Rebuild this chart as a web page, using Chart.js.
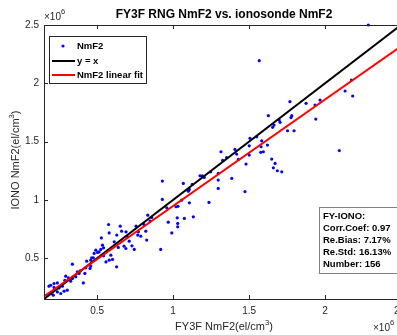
<!DOCTYPE html>
<html>
<head>
<meta charset="utf-8">
<script src="https://cdn.jsdelivr.net/npm/chart.js@4.4.1/dist/chart.umd.min.js"></script>
<style>
  html, body { margin: 0; padding: 0; background: #fff; overflow: hidden; }
  #wrap { width: 397px; height: 335px; overflow: hidden; }
</style>
</head>
<body>
<div id="wrap"><canvas id="chart" width="420" height="335"></canvas></div>
<script>
// values in units of 1e6 el/cm^3
const fy3f = [0.172, 0.194, 0.211, 0.238, 0.260, 0.282, 0.303, 0.183, 0.194, 0.216,
  0.216, 0.238, 0.249, 0.271, 0.287, 0.293, 0.311, 0.326, 0.337, 0.337,
  0.359, 0.381, 0.370, 0.388, 0.409, 0.419, 0.425, 0.431, 0.453, 0.458,
  0.458, 0.464, 0.475, 0.480, 0.491, 0.502, 0.513, 0.524, 0.528, 0.535,
  0.542, 0.542, 0.558, 0.575, 0.579, 0.579, 0.590, 0.601, 0.612, 0.628,
  0.639, 0.652, 0.661, 0.677, 0.689, 0.711, 0.729, 0.744, 0.690, 0.771,
  0.787, 0.808, 0.820, 0.826, 0.848, 0.833, 0.859, 0.756, 0.767, 0.918,
  0.929, 0.929, 0.958, 0.968, 0.991, 1.027, 1.030, 1.030, 1.074, 1.133,
  1.019, 1.032, 1.056, 1.107, 1.100, 1.107, 1.126, 1.067, 1.177, 1.192,
  1.205, 1.247, 1.297, 1.297, 1.297, 1.236, 1.386, 1.473, 1.480, 1.506,
  1.501, 1.501, 1.550, 1.583, 1.621, 1.579, 1.594, 1.577, 1.315, 1.326,
  1.352, 1.407, 1.418, 1.429, 1.649, 1.671, 1.660, 1.686, 1.715, 1.655,
  1.664, 1.627, 1.698, 1.753, 1.796, 1.704, 1.769, 1.781, 1.776, 1.875,
  1.934, 1.967, 1.939, 2.132, 2.174, 2.182, 2.094, 1.567, 2.285, 0.629,
  0.701];
const iono = [0.183, 0.197, 0.183, 0.211, 0.197, 0.217, 0.226, 0.260, 0.268, 0.283,
  0.249, 0.288, 0.245, 0.260, 0.311, 0.346, 0.331, 0.303, 0.326, 0.449,
  0.340, 0.369, 0.383, 0.391, 0.288, 0.369, 0.417, 0.474, 0.412, 0.432,
  0.483, 0.503, 0.503, 0.541, 0.569, 0.549, 0.554, 0.575, 0.674, 0.612,
  0.589, 0.520, 0.468, 0.789, 0.717, 0.483, 0.526, 0.489, 0.640, 0.426,
  0.592, 0.775, 0.732, 0.603, 0.583, 0.646, 0.606, 0.575, 0.726, 0.726,
  0.689, 0.789, 0.732, 0.655, 0.818, 0.869, 0.850, 0.775, 0.698, 0.575,
  1.161, 1.004, 0.932, 0.809, 0.717, 0.846, 0.798, 0.769, 0.841, 0.855,
  0.941, 0.945, 0.998, 0.975, 1.075, 1.090, 1.133, 1.141, 1.207, 1.207,
  1.193, 1.241, 1.227, 1.170, 1.098, 0.978, 1.184, 1.071, 1.307, 1.528,
  1.464, 1.384, 1.541, 1.507, 1.470, 1.456, 1.413, 1.408, 1.413, 1.339,
  1.363, 1.433, 1.393, 1.347, 1.350, 1.313, 1.275, 1.250, 1.241, 1.622,
  1.642, 1.722, 1.685, 1.593, 1.593, 1.665, 1.842, 1.722, 1.706, 1.828,
  1.813, 1.856, 1.693, 1.934, 2.028, 1.891, 1.423, 2.194, 2.500, 0.698,
  0.683];

const refX = [0.15, 2.5];
const refY = [0.15, 2.5];
const fitX = [0.15, 2.5];
const fitY = [0.172, 2.318];

const xTicks = [0.5, 1, 1.5, 2, 2.5];
const yTicks = [0.5, 1, 1.5, 2, 2.5];

const statLines = ["FY-IONO:", "Corr.Coef: 0.97", "Re.Bias: 7.17%", "Re.Std: 16.13%", "Number: 156"];

const FONT = "'Liberation Sans', Arial, Helvetica, sans-serif";
const AXIS = "#262626";

function pairs(xs, ys) {
  return xs.map((x, i) => ({ x: x, y: ys[i] }));
}

// text with a superscript part, parts = [[text, isSup], ...]
function supText(ctx, parts, x, y, size, bold) {
  const w = (p) => {
    ctx.font = (bold ? "bold " : "") + (p[1] ? size * 0.7 : size) + "px " + FONT;
    return ctx.measureText(p[0]).width;
  };
  let total = 0;
  parts.forEach(p => total += w(p));
  let cx = x - total / 2;
  ctx.textAlign = "left";
  ctx.textBaseline = "alphabetic";
  parts.forEach(p => {
    const pw = w(p);
    ctx.fillText(p[0], cx, p[1] ? y - size * 0.45 : y);
    cx += pw;
  });
}

const decor = {
  id: "decor",
  afterDraw(chart) {
    const ctx = chart.ctx;
    const a = chart.chartArea;
    const sx = chart.scales.x, sy = chart.scales.y;
    ctx.save();

    // axes box and inward ticks
    ctx.strokeStyle = AXIS;
    ctx.lineWidth = 1;
    ctx.strokeRect(Math.round(a.left) + 0.5, Math.round(a.top) + 0.5,
      Math.round(a.right - a.left), Math.round(a.bottom - a.top));
    ctx.beginPath();
    xTicks.forEach(v => {
      const px = Math.round(sx.getPixelForValue(v)) + 0.5;
      ctx.moveTo(px, a.bottom); ctx.lineTo(px, a.bottom - 4);
      ctx.moveTo(px, a.top); ctx.lineTo(px, a.top + 4);
    });
    yTicks.forEach(v => {
      const py = Math.round(sy.getPixelForValue(v)) + 0.5;
      ctx.moveTo(a.left, py); ctx.lineTo(a.left + 4, py);
      ctx.moveTo(a.right, py); ctx.lineTo(a.right - 4, py);
    });
    ctx.stroke();

    ctx.fillStyle = "#000";
    ctx.font = "bold 12px " + FONT;
    ctx.textAlign = "center";
    ctx.textBaseline = "middle";
    ctx.fillText("FY3F RNG NmF2 vs. ionosonde NmF2", 224, 15);

    ctx.fillStyle = AXIS;
    // exponent labels
    ctx.font = "10px " + FONT;
    ctx.textAlign = "left";
    ctx.textBaseline = "alphabetic";
    ctx.fillText("\u00d710", 44, 20);
    ctx.font = "7.5px " + FONT;
    ctx.fillText("6", 61, 14);
    ctx.font = "10px " + FONT;
    ctx.fillText("\u00d710", 373, 331);
    ctx.font = "7.5px " + FONT;
    ctx.fillText("6", 390, 325);

    // axis titles
    supText(ctx, [["FY3F NmF2(el/cm", false], ["3", true], [")", false]], 224, 330, 11, false);
    ctx.save();
    ctx.translate(19, 160);
    ctx.rotate(-Math.PI / 2);
    supText(ctx, [["IONO NmF2(el/cm", false], ["3", true], [")", false]], 0, 0, 11, false);
    ctx.restore();

    // legend
    ctx.fillStyle = "#fff";
    ctx.fillRect(49, 36, 97, 47);
    ctx.strokeStyle = AXIS;
    ctx.strokeRect(49.5, 36.5, 97, 47);
    ctx.fillStyle = "#0000ff";
    ctx.beginPath(); ctx.arc(63, 46, 1.6, 0, Math.PI * 2); ctx.fill();
    ctx.lineWidth = 2;
    ctx.strokeStyle = "#000";
    ctx.beginPath(); ctx.moveTo(52, 61); ctx.lineTo(75, 61); ctx.stroke();
    ctx.strokeStyle = "#ff0000";
    ctx.beginPath(); ctx.moveTo(52, 75); ctx.lineTo(75, 75); ctx.stroke();
    ctx.fillStyle = "#000";
    ctx.font = "bold 9.5px " + FONT;
    ctx.textAlign = "left";
    ctx.textBaseline = "middle";
    ctx.fillText("NmF2", 77, 46);
    ctx.fillText("y = x", 77, 61);
    ctx.fillText("NmF2 linear fit", 77, 75);

    // stats box
    ctx.lineWidth = 1;
    ctx.fillStyle = "#fff";
    ctx.fillRect(319, 207, 100, 66);
    ctx.strokeStyle = "#808080";
    ctx.strokeRect(319.5, 207.5, 100, 66);
    ctx.fillStyle = "#000";
    ctx.font = "bold 9.5px " + FONT;
    statLines.forEach((t, i) => ctx.fillText(t, 323, 216 + i * 12));

    ctx.restore();
  }
};

new Chart(document.getElementById("chart"), {
  type: "scatter",
  data: {
    datasets: [
      {
        label: "NmF2 linear fit",
        data: pairs(fitX, fitY),
        showLine: true,
        borderColor: "#ff0000",
        borderWidth: 2,
        pointRadius: 0,
        order: 0
      },
      {
        label: "y = x",
        data: pairs(refX, refY),
        showLine: true,
        borderColor: "#000000",
        borderWidth: 2,
        pointRadius: 0,
        order: 1
      },
      {
        label: "NmF2",
        data: pairs(fy3f, iono),
        pointRadius: 1.6,
        pointBackgroundColor: "#0000ff",
        pointBorderWidth: 0,
        clip: 4,
        order: 2
      }
    ]
  },
  options: {
    responsive: false,
    animation: false,
    devicePixelRatio: 1,
    layout: { padding: { top: 25, right: 19, left: 0, bottom: 0 } },
    plugins: { legend: { display: false }, tooltip: { enabled: false } },
    scales: {
      x: {
        type: "linear",
        min: 0.15,
        max: 2.5,
        afterBuildTicks: s => { s.ticks = xTicks.map(v => ({ value: v })); },
        afterFit: s => { s.height = 36; },
        grid: { display: false, drawTicks: false },
        border: { display: false },
        ticks: {
          color: AXIS, padding: 6, maxRotation: 0, autoSkip: false,
          font: { family: FONT, size: 10 },
          callback: v => String(v)
        }
      },
      y: {
        type: "linear",
        min: 0.15,
        max: 2.5,
        afterBuildTicks: s => { s.ticks = yTicks.map(v => ({ value: v })); },
        afterFit: s => { s.width = 44; },
        grid: { display: false, drawTicks: false },
        border: { display: false },
        ticks: {
          color: AXIS, padding: 5, autoSkip: false,
          font: { family: FONT, size: 10 },
          callback: v => String(v)
        }
      }
    }
  },
  plugins: [decor]
});
</script>
</body>
</html>
